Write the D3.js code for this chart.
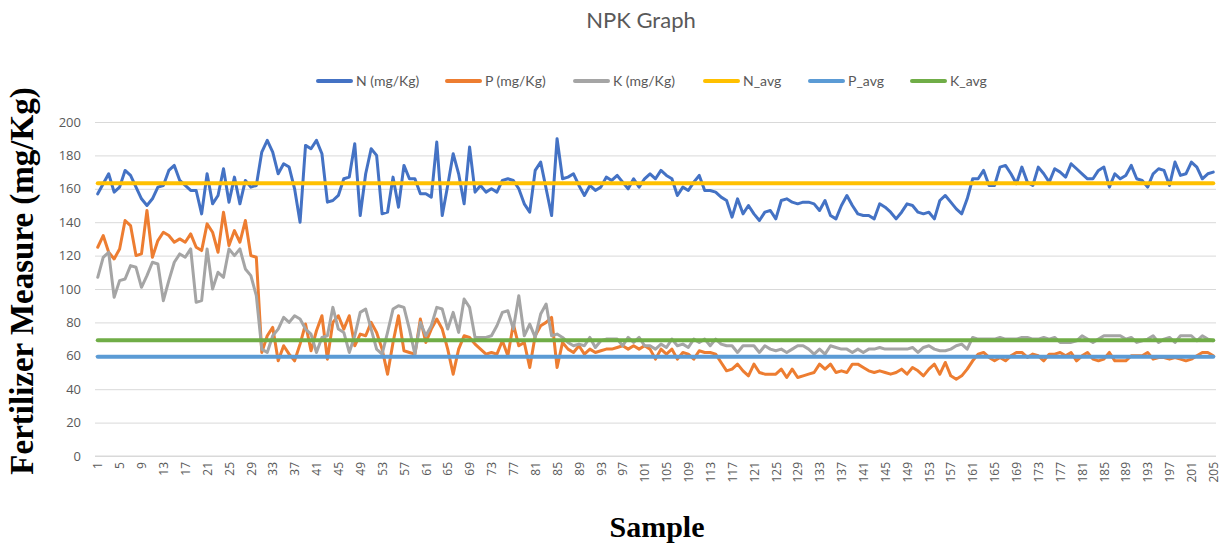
<!DOCTYPE html>
<html>
<head>
<meta charset="utf-8">
<script src="https://cdn.jsdelivr.net/npm/d3@7"></script>
<style>
  html, body { margin: 0; padding: 0; background: #fff; }
  svg { display: block; }
</style>
</head>
<body>
<svg id="chart" width="1226" height="546"></svg>
<script>
const N_values = [157,163,169,158,161,171,168,161,154,150,154,161,162,171,174,165,162,159,159,145,169,151,156,172,152,167,151,165,161,162,
182,189,182,169,175,173,160,140,186,184,189,181,152,153,156,166,167,187,144,169,184,180,145,146,167,149,174,166,166,157,
157,155,188,144,162,181,169,151,185,158,162,158,160,158,165,166,165,160,151,146,171,176,160,144,190,166,167,169,162,156,
162,159,161,167,165,168,164,160,166,161,166,169,166,171,168,166,156,161,159,164,168,159,159,158,155,153,143,154,145,150,
145,141,146,147,142,153,154,152,151,152,152,151,147,153,144,142,150,156,150,145,144,144,142,151,149,146,142,146,151,150,
146,145,146,142,153,156,152,148,145,154,166,166,171,162,162,173,174,169,163,173,164,162,173,169,164,172,170,167,175,172,
169,166,166,171,173,161,169,166,168,174,166,165,161,169,172,171,162,176,168,169,176,173,166,169,170];
const P_values = [125,132,122,118,124,141,138,120,121,147,119,129,134,132,128,130,128,133,125,123,139,134,122,146,126,135,128,141,120,119,
62,72,77,57,66,61,57,67,79,63,75,84,58,80,84,76,84,66,73,72,80,74,64,49,68,84,63,62,61,82,
68,76,82,76,64,49,64,72,71,67,64,61,62,61,69,60,79,66,68,53,72,78,80,83,53,68,64,62,66,61,
64,62,63,64,64,65,66,64,66,64,66,64,58,64,61,64,58,62,61,58,63,62,62,61,56,51,52,55,51,48,
55,50,49,49,49,52,47,52,47,48,49,50,55,52,55,50,51,50,55,55,53,51,50,51,50,49,50,52,49,53,
51,48,52,55,49,56,48,46,48,52,57,61,62,59,57,59,57,60,62,62,59,61,60,57,61,61,62,60,62,57,
60,62,58,57,58,62,57,57,57,60,60,60,62,58,59,59,58,59,58,57,58,60,62,62,60];
const K_values = [107,119,122,95,105,106,114,113,101,108,116,115,93,105,116,121,119,124,92,93,124,100,110,107,124,120,124,112,108,96,
64,62,72,76,83,80,84,82,76,73,62,71,72,89,76,74,62,72,86,88,76,64,61,74,88,90,89,76,61,80,
72,78,89,88,76,86,74,94,89,71,71,71,72,78,86,87,76,96,72,79,71,85,91,72,73,71,68,66,67,66,
71,65,69,70,70,70,66,71,68,71,66,66,64,67,65,70,66,67,65,70,68,70,66,70,67,66,66,62,66,66,
66,62,66,64,63,64,62,64,66,66,64,61,64,61,66,65,64,64,62,64,62,64,64,65,64,64,64,64,64,65,
62,65,66,64,63,63,64,66,67,64,71,70,70,70,70,71,70,70,70,71,71,70,70,71,70,71,68,68,68,69,
72,70,68,70,72,72,72,72,70,71,68,69,70,72,68,70,71,68,72,72,72,69,72,70,69];
const avgValues = [163.3, 59.5, 69.3];
const seriesNames = ["N (mg/Kg)", "P (mg/Kg)", "K (mg/Kg)", "N_avg", "P_avg", "K_avg"];
const yTicks = [0,20,40,60,80,100,120,140,160,180,200];
const samples = d3.range(1, N_values.length + 1);
const xTickLabels = samples.filter(s => (s - 1) % 4 === 0);

const colors = ["#4472C4", "#ED7D31", "#A5A5A5", "#FFC000", "#5B9BD5", "#70AD47"];

const svg = d3.select("#chart");
const plotLeft = 95, plotRight = 1216, plotTop = 122, plotBottom = 456;

const x = d3.scalePoint().domain(samples).range([plotLeft, plotRight]).padding(0.5);
const y = d3.scaleLinear().domain([0, 200]).range([plotBottom, plotTop]);

// title
svg.append("text").attr("x", 641).attr("y", 28).attr("text-anchor", "middle")
  .attr("font-family", "Lato, 'Open Sans', sans-serif").attr("font-size", 22)
  .attr("fill", "#595959").text("NPK Graph");

// gridlines
const yAxis = d3.axisLeft(y).tickValues(yTicks).tickSize(-(plotRight - plotLeft)).tickPadding(14);
const gy = svg.append("g").attr("transform", `translate(${plotLeft},0)`).call(yAxis);
gy.select(".domain").remove();
gy.selectAll(".tick line").attr("stroke", "#d9d9d9").attr("stroke-width", 1);
gy.selectAll(".tick text").attr("font-family", "'Open Sans', sans-serif").attr("font-size", 13).attr("fill", "#595959");

// x axis
const xAxis = d3.axisBottom(x).tickValues(xTickLabels).tickSize(0).tickPadding(6);
const gx = svg.append("g").attr("transform", `translate(0,${plotBottom})`).call(xAxis);
gx.select(".domain").attr("stroke", "#d9d9d9").attr("stroke-width", 1.2).attr("d", `M${plotLeft},0H${plotRight}`);
gx.selectAll(".tick text")
  .attr("font-family", "'Open Sans', sans-serif").attr("font-size", 12).attr("fill", "#595959")
  .attr("transform", "rotate(-90)").attr("text-anchor", "end")
  .attr("x", -6).attr("y", 0).attr("dy", "0.35em");

// series
const line = d3.line().x((d, i) => x(samples[i])).y(d => y(d));
const seriesData = [N_values, P_values, K_values];
seriesData.forEach((vals, k) => {
  svg.append("path").datum(vals).attr("d", line).attr("fill", "none")
    .attr("stroke", colors[k]).attr("stroke-width", 3)
    .attr("stroke-linejoin", "round").attr("stroke-linecap", "round");
});
avgValues.forEach((v, k) => {
  const vals = samples.map(() => v);
  svg.append("path").datum(vals).attr("d", line).attr("fill", "none")
    .attr("stroke", colors[k + 3]).attr("stroke-width", 4)
    .attr("stroke-linecap", "round");
});

// legend
const legendX = [318, 447, 575, 705, 810, 912];
const lg = svg.append("g");
seriesNames.forEach((name, k) => {
  lg.append("line").attr("x1", legendX[k]).attr("x2", legendX[k] + 33)
    .attr("y1", 81).attr("y2", 81).attr("stroke", colors[k]).attr("stroke-width", 4)
    .attr("stroke-linecap", "round");
  lg.append("text").attr("x", legendX[k] + 38).attr("y", 86)
    .attr("font-family", "Lato, 'Open Sans', sans-serif").attr("font-size", 14)
    .attr("fill", "#595959").text(name);
});

// axis titles
svg.append("text").attr("transform", "translate(33,281) rotate(-90)")
  .attr("text-anchor", "middle").attr("font-family", "'Liberation Serif', 'DejaVu Serif', serif")
  .attr("font-weight", "bold").attr("font-size", 33).attr("fill", "#000")
  .text("Fertilizer Measure (mg/Kg)");
svg.append("text").attr("x", 657).attr("y", 537)
  .attr("text-anchor", "middle").attr("font-family", "'Liberation Serif', 'DejaVu Serif', serif")
  .attr("font-weight", "bold").attr("font-size", 30).attr("fill", "#000")
  .text("Sample");
</script>
</body>
</html>
